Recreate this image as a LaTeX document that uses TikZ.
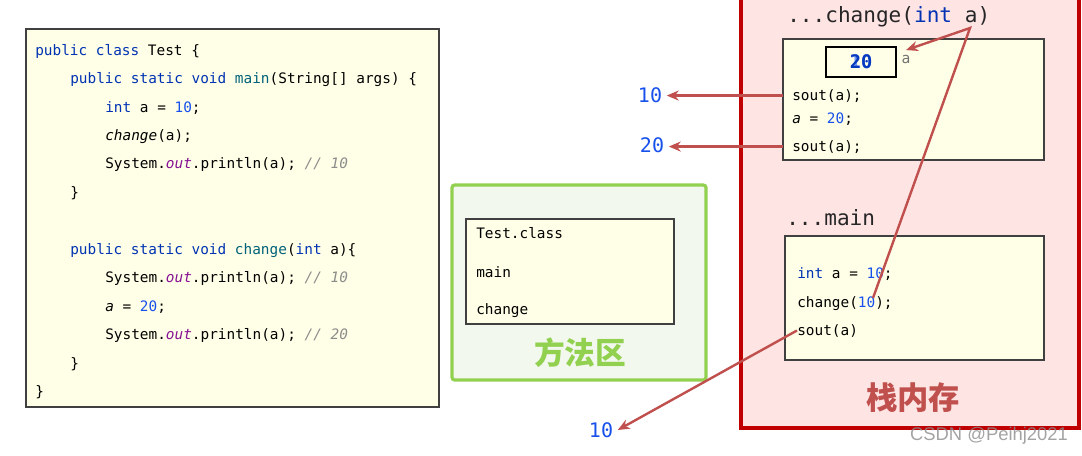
\documentclass[tikz,border=0pt]{standalone}
\usepackage{fontspec}
\setmonofont{DejaVu Sans Mono}
\newfontfamily\cjk{Noto Sans CJK SC}
\newfontfamily\wmfont{Liberation Sans}
\usetikzlibrary{arrows.meta}
\definecolor{codebg}{RGB}{255,255,231}
\definecolor{kwblue}{RGB}{0,51,179}
\definecolor{fnteal}{RGB}{0,98,122}
\definecolor{numblue}{RGB}{23,80,235}
\definecolor{outpurple}{RGB}{135,16,148}
\definecolor{cmtgray}{RGB}{140,140,140}
\definecolor{arrowred}{RGB}{192,80,77}
\definecolor{stackred}{RGB}{192,0,0}
\definecolor{stackfill}{RGB}{255,228,228}
\definecolor{methgreen}{RGB}{146,208,80}
\definecolor{methfill}{RGB}{242,248,238}
\newcommand{\kw}[1]{\textcolor{kwblue}{#1}}
\newcommand{\fn}[1]{\textcolor{fnteal}{#1}}
\newcommand{\nm}[1]{\textcolor{numblue}{#1}}
\newcommand{\fld}[1]{\textcolor{outpurple}{\itshape #1}}
\newcommand{\cmt}[1]{\textcolor{cmtgray}{\itshape #1}}

\begin{document}
\begin{tikzpicture}[x=0.75pt, y=-0.75pt,
    code/.style={anchor=base west, inner sep=0pt, font=\ttfamily\fontsize{10.8}{13}\selectfont},
    title/.style={anchor=base west, inner sep=0pt, font=\ttfamily\fontsize{15.8}{18}\selectfont, text=black!85},
    outnum/.style={font=\ttfamily\fontsize{15}{18}\selectfont, text=numblue},
    box/.style={draw=black!75, fill=codebg, line width=0.8pt},
    flow/.style={draw=arrowred, line width=1.8pt, -{Stealth[length=9pt, width=7.5pt]}}]
  \useasboundingbox (0,0) rectangle (1082,455);
  % code listing
  \draw[box] (26,29) rectangle (439,407);
  \node[code] (c1) at (35,55) {\kw{public class} Test \{};
  \node[code] (c2) at (70,83) {\kw{public static void} \fn{main}(String[] args) \{};
  \node[code] (c3) at (105,112) {\kw{int} a = \nm{10};};
  \node[code] (c4) at (105,140) {\textit{change}(a);};
  \node[code] (c5) at (105,168) {System.\fld{out}.println(a); \cmt{// 10}};
  \node[code] (c6) at (70,197) {\}};
  \node[code] (c7) at (70,254) {\kw{public static void} \fn{change}(\kw{int} a)\{};
  \node[code] (c8) at (105,282) {System.\fld{out}.println(a); \cmt{// 10}};
  \node[code] (c9) at (105,311) {\textit{a} = \nm{20};};
  \node[code] (c10) at (105,339) {System.\fld{out}.println(a); \cmt{// 20}};
  \node[code] (c11) at (70,368) {\}};
  \node[code] (c12) at (35,396) {\}};
  % method area
  \draw[draw=methgreen, fill=methfill, line width=2.4pt, rounded corners=2pt] (452,185) rectangle (706,380);
  \draw[box] (466,219) rectangle (674,324);
  \node[code] (m1) at (476,238) {Test.class};
  \node[code] (m2) at (476,277) {main};
  \node[code] (m3) at (476,314) {change};
  \node[font=\cjk\bfseries\fontsize{23}{23}\selectfont, text=methgreen] (lmeth) at (580,353) {方法区};
  % stack
  \draw[draw=stackred, fill=stackfill, line width=2.4pt] (741,-10) rectangle (1079,428);
  \node[title] (tchg) at (787,22) {...change(\kw{int} a)};
  \path (783,39) coordinate (chgNW) rectangle (1044,160);
  \draw[box] (783,39) rectangle (1044,160);
  \node[draw, line width=1.6pt, minimum width=53pt, minimum height=23pt, inner sep=0pt,
    font=\ttfamily\bfseries\fontsize{14}{15}\selectfont, text=kwblue!80!numblue] (vbox) at (861,62)
    {\makebox[0pt][l]{\textcolor{numblue!60}{10}}20};
  \node[font=\ttfamily\fontsize{11}{13}\selectfont, text=black!55] (va) at (906,59) {a};
  \node[code] (s1) at (792,100) {sout(a);};
  \node[code] (s2) at (792,123) {\textit{a} = \nm{20};};
  \node[code] (s3) at (792,151) {sout(a);};
  \node[title] (tmain) at (786,225) {...main};
  \draw[box] (785,236) rectangle (1044,360);
  \node[code] (k1) at (797,278) {\kw{int} a = \nm{10};};
  \node[code] (k2) at (797,307) {change(\nm{10});};
  \node[code] (k3) at (797,335) {sout(a)};
  \node[font=\cjk\bfseries\fontsize{23.5}{24}\selectfont, text=arrowred] (lstack) at (913,398) {栈内存};
  % printed values
  \node[outnum] (o1) at (650,95) {10};
  \node[outnum] (o2) at (652,145) {20};
  \node[outnum] (o3) at (601,430) {10};
  \coordinate (pa) at (970,28);
  \coordinate (p10) at (873,298);
  \draw[flow] (chgNW |- s1) -- (s1 -| o1.east);
  \draw[flow] (chgNW |- s3) -- (s3 -| o2.east);
  \draw[flow] (k3.west) -- (o3.east);
  \draw[flow] (p10) -- (pa) -- (va.north);
  \node[anchor=base, font=\wmfont\fontsize{13.8}{15}\selectfont, text=black!45, opacity=0.8] (wm) at (989,440) {CSDN @Peihj2021};
\end{tikzpicture}
\end{document}
